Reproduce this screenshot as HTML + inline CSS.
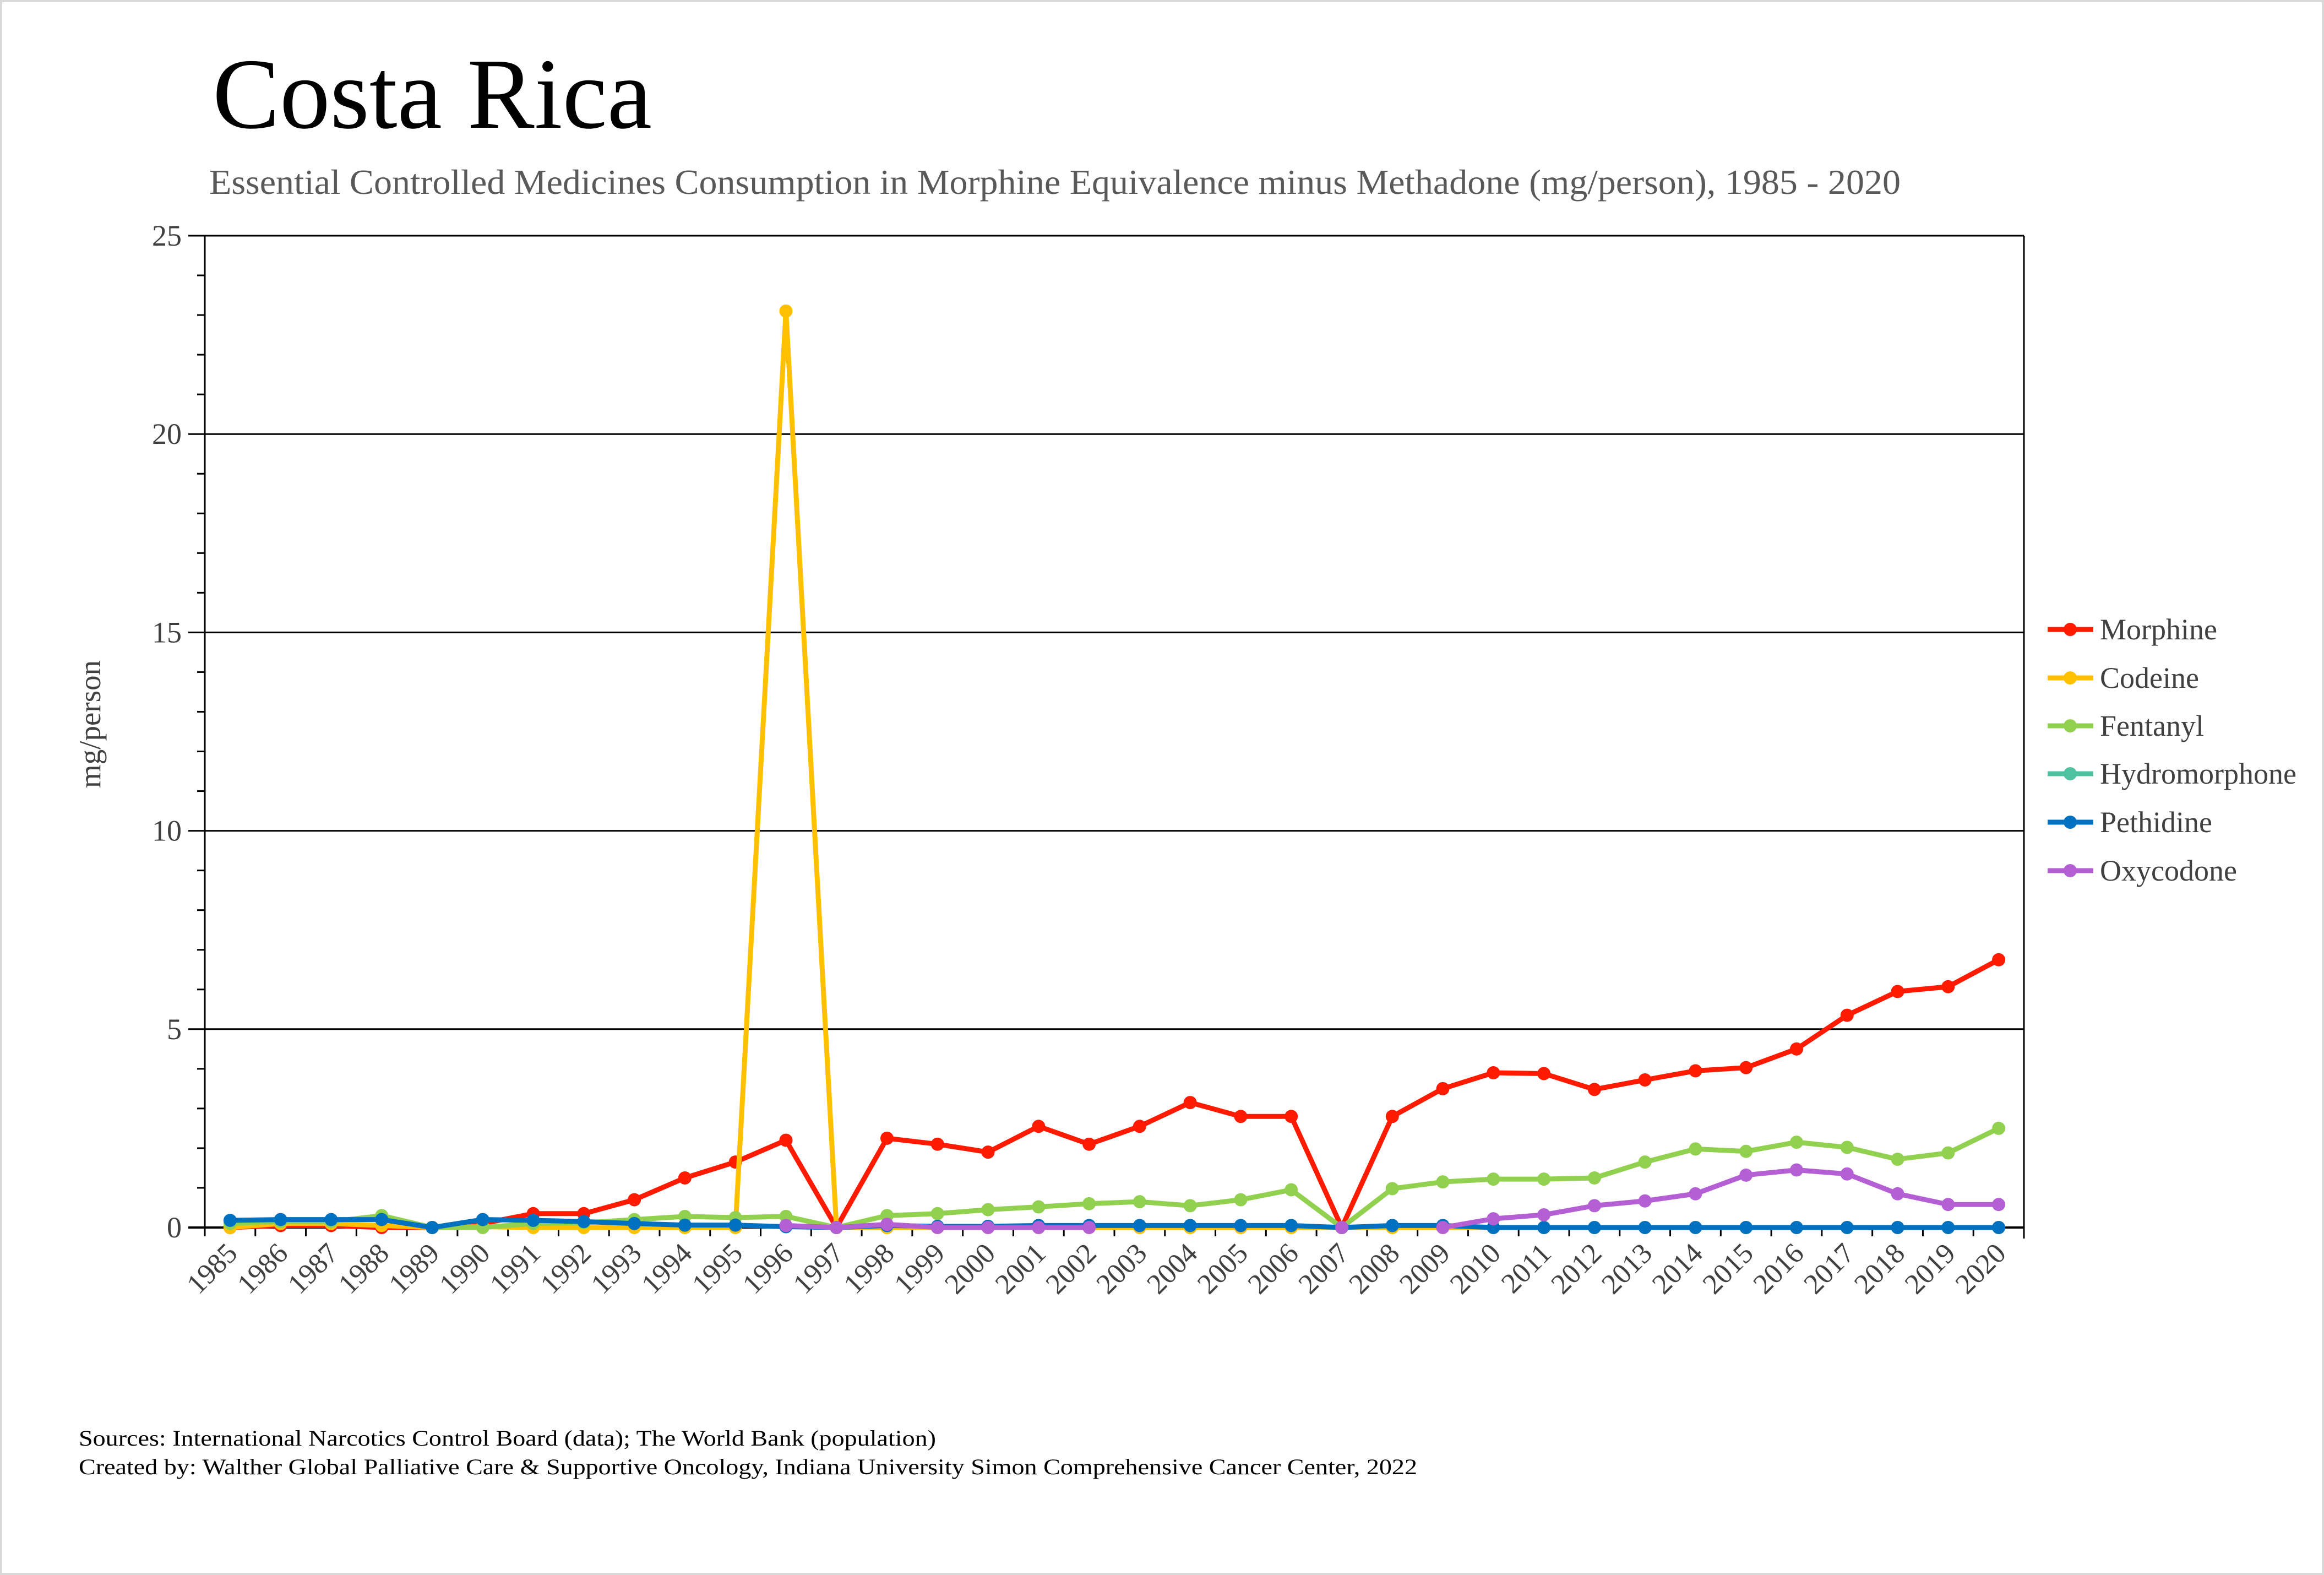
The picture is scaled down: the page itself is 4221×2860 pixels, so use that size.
<!DOCTYPE html>
<html><head><meta charset="utf-8"><style>
html,body{margin:0;padding:0;background:#fff}
svg{display:block}
text{font-family:"Liberation Serif",serif}
</style></head><body>
<svg id="chart" width="4221" height="2860" viewBox="0 0 4221 2860" xmlns="http://www.w3.org/2000/svg">
<rect x="2" y="2" width="4217" height="2856" fill="#fff" stroke="#d9d9d9" stroke-width="4"/>
<text x="386" y="232" font-size="183" fill="#000">Costa Rica</text>
<text x="380" y="352" font-size="63" fill="#595959" textLength="3072" lengthAdjust="spacingAndGlyphs">Essential Controlled Medicines Consumption in Morphine Equivalence minus Methadone (mg/person), 1985 - 2020</text>
<text transform="translate(182,1315) rotate(-90)" text-anchor="middle" font-size="55" fill="#404040">mg/person</text>
<g id="grid"></g>
<g id="axes"></g>
<g id="series"></g>
<g id="legend"></g>
<text x="143" y="2625" font-size="40" fill="#000" textLength="1557" lengthAdjust="spacingAndGlyphs">Sources: International Narcotics Control Board (data); The World Bank (population)</text>
<text x="143" y="2677" font-size="40" fill="#000" textLength="2431" lengthAdjust="spacingAndGlyphs">Created by: Walther Global Palliative Care &amp; Supportive Oncology, Indiana University Simon Comprehensive Cancer Center, 2022</text>
</svg>
<script>
const years = [1985,1986,1987,1988,1989,1990,1991,1992,1993,1994,1995,1996,1997,1998,1999,2000,2001,2002,2003,2004,2005,2006,2007,2008,2009,2010,2011,2012,2013,2014,2015,2016,2017,2018,2019,2020];
const yTicks = [0,5,10,15,20,25];
const morphine = [0,0.05,0.05,0,0,0.1,0.35,0.35,0.7,1.25,1.65,2.2,0,2.25,2.1,1.9,2.55,2.1,2.55,3.15,2.8,2.8,0,2.8,3.5,3.9,3.88,3.48,3.72,3.95,4.03,4.5,5.35,5.95,6.07,6.75];
const codeine = [0,0.1,0.1,0.05,0,0.02,0,0,0,0,0,23.1,0,0,0,0,0,0,0,0,0,0,0,0,0,0,0,0,0,0,0,0,0,0,0,0];
const fentanyl = [0.1,0.15,0.15,0.3,0,0,0.1,0.12,0.2,0.28,0.25,0.28,0,0.3,0.35,0.45,0.52,0.6,0.65,0.55,0.7,0.95,0,0.98,1.15,1.22,1.22,1.25,1.65,1.98,1.92,2.15,2.02,1.72,1.88,2.5];
const hydromorphone = [null,null,null,null,null,null,null,null,null,null,null,null,null,null,null,null,null,null,null,null,null,null,null,null,null,null,null,null,null,null,null,null,null,null,null,null];
const pethidine = [0.18,0.2,0.2,0.2,0,0.2,0.18,0.15,0.1,0.06,0.06,0.02,0,0.05,0.03,0.03,0.05,0.05,0.05,0.05,0.05,0.05,0,0.05,0.05,0,0,0,0,0,0,0,0,0,0,0];
const oxycodone = [null,null,null,null,null,null,null,null,null,null,null,0.05,0,0.08,0,0,0,0,null,null,null,null,0,null,0,0.22,0.32,0.55,0.67,0.85,1.32,1.45,1.35,0.85,0.58,0.58];
const seriesNames = ["Morphine","Codeine","Fentanyl","Hydromorphone","Pethidine","Oxycodone"];

const NS="http://www.w3.org/2000/svg";
const L=372,R=3676,T=428,B=2229,YMAX=25;
const bw=(R-L)/years.length;
const xS=i=>L+bw*(i+0.5);
const yS=v=>B-(v/YMAX)*(B-T);
function mk(tag,attrs,parent){const e=document.createElementNS(NS,tag);for(const k in attrs)e.setAttribute(k,attrs[k]);parent.appendChild(e);return e;}
const grid=document.getElementById('grid'),axes=document.getElementById('axes'),ser=document.getElementById('series'),leg=document.getElementById('legend');
yTicks.forEach(t=>{
  if(t>0){const g=mk('line',{x1:L,x2:R,y1:yS(t),y2:yS(t),stroke:'#000','stroke-width':3},grid);
  
  }
  const tx=mk('text',{x:L-42,y:yS(t)+18,'text-anchor':'end','font-size':54,fill:'#404040'},axes);
  tx.textContent=t;
  
  
});
for(let v=0;v<=YMAX;v++){
  const len=(v%5===0)?30:14;
  const tk=mk('line',{x1:L-len,x2:L,y1:yS(v),y2:yS(v),stroke:'#000','stroke-width':3},axes);
  
  
}
const ya=mk('line',{x1:L,x2:L,y1:T,y2:B,stroke:'#000','stroke-width':3},axes);


const ra=mk('line',{x1:R,x2:R,y1:T,y2:B+20,stroke:'#000','stroke-width':3},axes);


const xa=mk('line',{x1:L-30,x2:R,y1:B,y2:B,stroke:'#000','stroke-width':4},axes);


years.forEach((yr,i)=>{
  const tk=mk('line',{x1:L+bw*i,x2:L+bw*i,y1:B,y2:B+16,stroke:'#000','stroke-width':3},axes);
  
  
  const x=xS(i)+16,y=B+50;
  const tx=mk('text',{x:x,y:y,'text-anchor':'end','font-size':52,fill:'#404040',transform:`rotate(-45 ${x} ${y})`},axes);
  tx.textContent=yr;
  
  
});
const data=[morphine,codeine,fentanyl,hydromorphone,pethidine,oxycodone];
const colors=["#ff1a00","#ffc000","#92d050","#4fc3a1","#0070c0","#b55fd5"];
data.forEach((arr,s)=>{
  const g=mk('g',{},ser);
  
  
  let d='',pen=false;
  arr.forEach((v,i)=>{if(v===null){pen=false;return;}d+=(pen?'L':'M')+xS(i)+' '+yS(v)+' ';pen=true;});
  const p=mk('path',{d:d||'M0 0',fill:'none',stroke:d?colors[s]:'none','stroke-width':9,'stroke-linejoin':'round'},g);
  
  
  arr.forEach((v,i)=>{if(v===null)return;
    const c=mk('circle',{cx:xS(i),cy:yS(v),r:12,fill:colors[s]},g);
    
    
  });
});
const rows=[1143,1231,1318,1405,1493,1581];
seriesNames.forEach((n,s)=>{
  const g=mk('g',{},leg);
  
  
  mk('line',{x1:3719,x2:3802,y1:rows[s],y2:rows[s],stroke:colors[s],'stroke-width':9},g);
  mk('circle',{cx:3760,cy:rows[s],r:12,fill:colors[s]},g);
  const t=mk('text',{x:3814,y:rows[s]+18,'font-size':54,fill:'#404040'},g);
  t.textContent=n;
});
</script>
</body></html>
